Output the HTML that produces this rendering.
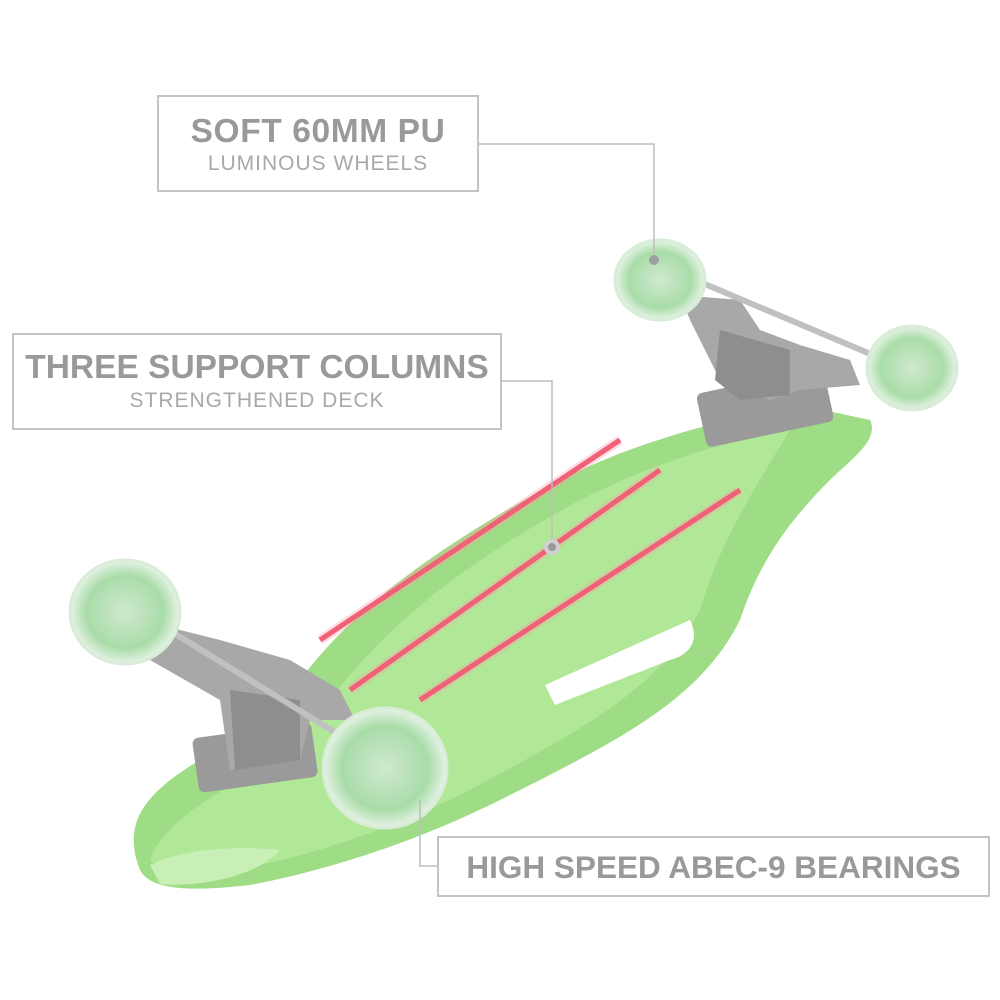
<!DOCTYPE html>
<html><head><meta charset="utf-8"><style>
html,body{margin:0;padding:0;background:#fff;}
body{width:1000px;height:1000px;position:relative;overflow:hidden;font-family:"Liberation Sans",sans-serif;}
.box{position:absolute;border:2px solid #c4c4c4;background:#fff;text-align:center;color:#999;box-sizing:border-box;white-space:nowrap;}
.t{font-weight:bold;font-size:33.5px;letter-spacing:0.6px;}
.s{font-size:21px;color:#a8a8a8;letter-spacing:1px;}
svg{position:absolute;left:0;top:0;}
</style></head><body>
<svg width="1000" height="1000" viewBox="0 0 1000 1000">
<defs>
<radialGradient id="wh" cx="50%" cy="50%" r="50%"><stop offset="0" stop-color="#cfe9cf"/><stop offset="0.7" stop-color="#a9dca9"/><stop offset="1" stop-color="#e6f3e6"/></radialGradient>
</defs>
<path d="M140,870 C120,820 150,790 200,760 L300,680 C360,600 450,540 560,480 C640,440 720,420 800,405 L870,420 C880,440 850,460 830,480 C790,520 760,560 740,620 C700,700 620,740 500,800 C420,840 330,870 250,885 C190,892 150,890 140,870 Z" fill="#9edd86"/>
<path d="M150,860 C160,830 200,800 260,770 L330,700 C390,620 470,560 580,500 C660,460 730,440 790,430 C760,480 720,540 700,610 C660,690 580,730 470,790 C390,830 300,860 230,870 C190,875 160,872 150,860 Z" fill="#b0e898"/>
<path d="M150,865 C180,850 230,845 280,850 C260,875 200,888 160,884 Z" fill="#c8f0b6"/>
<path d="M320,640 L620,440 M350,690 L660,470 M420,700 L740,490" stroke="#e8435e" stroke-width="5" fill="none"/>
<path d="M320,640 L620,440 M350,690 L660,470 M420,700 L740,490" stroke="#ff9aa8" stroke-width="10" opacity="0.35" fill="none"/>
<path d="M545,685 L690,620 C700,640 690,655 670,660 L555,705 Z" fill="#fff"/>
<rect x="700" y="380" width="130" height="55" rx="6" fill="#9a9a9a" transform="rotate(-12 765 407)"/>
<path d="M680,295 L740,300 L760,330 L800,345 L850,360 L860,385 L800,390 L770,400 L720,380 L690,320 Z" fill="#a8a8a8"/>
<path d="M720,330 L790,350 L790,395 L740,400 L715,380 Z" fill="#8e8e8e"/>
<line x1="660" y1="265" x2="920" y2="375" stroke="#c0c0c0" stroke-width="6"/>
<ellipse cx="660" cy="280" rx="45" ry="40" fill="url(#wh)" stroke="#d8ecd8" stroke-width="3"/>
<ellipse cx="912" cy="368" rx="45" ry="42" fill="url(#wh)" stroke="#d8ecd8" stroke-width="3"/>
<rect x="195" y="730" width="120" height="55" rx="6" fill="#9a9a9a" transform="rotate(-8 255 757)"/>
<path d="M140,620 L220,640 L290,660 L340,690 L355,720 L310,720 L300,760 L230,770 L220,700 L150,660 Z" fill="#a8a8a8"/>
<path d="M230,690 L300,700 L300,760 L235,770 Z" fill="#8e8e8e"/>
<line x1="120" y1="600" x2="380" y2="760" stroke="#c0c0c0" stroke-width="6"/>
<ellipse cx="125" cy="612" rx="55" ry="52" fill="url(#wh)" stroke="#d8ecd8" stroke-width="3"/>
<ellipse cx="385" cy="768" rx="62" ry="60" fill="url(#wh)" stroke="#d8ecd8" stroke-width="3"/>
<polyline points="478,144 654,144 654,258" fill="none" stroke="#bdbdbd" stroke-width="1.5"/>
<circle cx="654" cy="260" r="5" fill="#a0a0a0"/>
<polyline points="501,381 552,381 552,545" fill="none" stroke="#bdbdbd" stroke-width="1.5"/>
<circle cx="552" cy="547" r="8" fill="#d0d0d0"/><circle cx="552" cy="547" r="4" fill="#999"/>
<polyline points="420,800 420,866 437,866" fill="none" stroke="#bdbdbd" stroke-width="1.5"/>
</svg>
<div class="box" style="left:157px;top:95px;width:322px;height:97px;">
<div class="t" style="margin-top:16px;">SOFT 60MM PU</div>
<div class="s" style="margin-top:1px;">LUMINOUS WHEELS</div></div>
<div class="box" style="left:12px;top:333px;width:490px;height:97px;">
<div class="t" style="margin-top:14px;letter-spacing:0;">THREE SUPPORT COLUMNS</div>
<div class="s" style="margin-top:2px;">STRENGTHENED DECK</div></div>
<div class="box" style="left:437px;top:836px;width:553px;height:61px;">
<div class="t" style="margin-top:11px;letter-spacing:0;font-size:31.5px;">HIGH SPEED ABEC-9 BEARINGS</div></div>
</body></html>
